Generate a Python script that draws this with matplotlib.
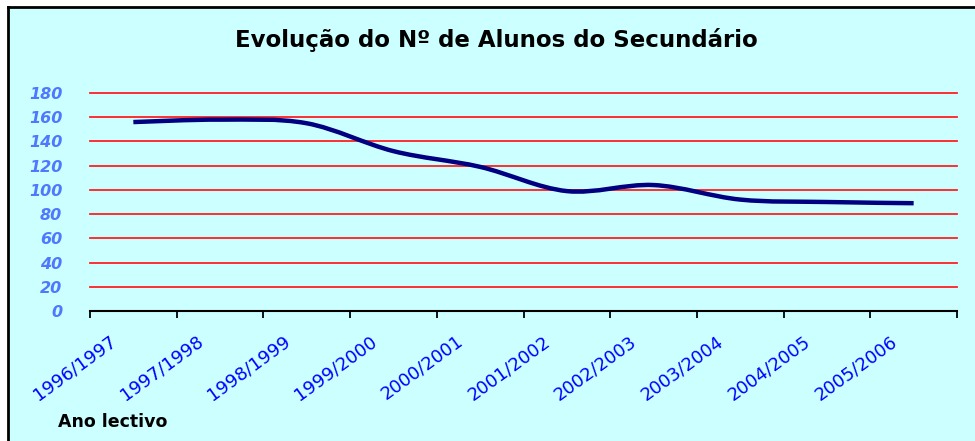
import numpy as np
import matplotlib.pyplot as plt
from matplotlib.path import Path
from matplotlib.patches import PathPatch, Rectangle
from matplotlib.lines import Line2D
from matplotlib.transforms import ScaledTranslation

anos = ['1996/1997', '1997/1998', '1998/1999', '1999/2000', '2000/2001',
        '2001/2002', '2002/2003', '2003/2004', '2004/2005', '2005/2006']
alunos = [156, 158, 155, 132, 119, 99, 104, 92, 90, 89]
yticks = [0, 20, 40, 60, 80, 100, 120, 140, 160, 180]

fundo = '#ccffff'

fig = plt.figure(figsize=(9.75, 4.41), dpi=100)
fig.patch.set_facecolor('white')

# caixa do grafico (so com margem esquerda e de cima)
fig.patches.append(Rectangle((8/975, 0), 1, 1 - 7/441, transform=fig.transFigure,
                             facecolor=fundo, edgecolor='none', zorder=-2))
fig.lines.append(Line2D([8/975, 8/975], [0, 1 - 7/441], transform=fig.transFigure,
                        color='black', lw=2, zorder=-1))
fig.lines.append(Line2D([8/975, 1], [1 - 7/441, 1 - 7/441], transform=fig.transFigure,
                        color='black', lw=2, zorder=-1))

ax = fig.add_axes([90/975, 1 - 311/441, (957 - 90)/975, (311 - 93)/441])
ax.patch.set_visible(False)

x = np.arange(len(anos)) + 0.5
y = np.array(alunos, dtype=float)

# linha suavizada (bezier tipo catmull-rom, como no excel)
verts = [(x[0], y[0])]
codes = [Path.MOVETO]
n = len(x)
for i in range(n - 1):
    p0 = (x[max(i - 1, 0)], y[max(i - 1, 0)])
    p1 = (x[i], y[i])
    p2 = (x[i + 1], y[i + 1])
    p3 = (x[min(i + 2, n - 1)], y[min(i + 2, n - 1)])
    c1 = (p1[0] + (p2[0] - p0[0]) / 6, p1[1] + (p2[1] - p0[1]) / 6)
    c2 = (p2[0] - (p3[0] - p1[0]) / 6, p2[1] - (p3[1] - p1[1]) / 6)
    verts += [c1, c2, p2]
    codes += [Path.CURVE4] * 3
ax.add_patch(PathPatch(Path(verts, codes), facecolor='none', edgecolor='#000080',
                       lw=3.2, capstyle='butt', zorder=3))

ax.set_xlim(0, len(anos))
ax.set_ylim(0, 180)
ax.set_yticks(yticks)
ax.yaxis.grid(True, color='#ff2020', lw=1.3)
for g in ax.yaxis.get_gridlines():
    g.set_clip_on(False)
ax.set_axisbelow(True)

ax.set_xticks(np.arange(len(anos) + 1))
ax.set_xticklabels([])
ax.tick_params(axis='x', which='major', direction='out', length=5, width=1.3, color='black')
ax.tick_params(axis='y', length=0, pad=20, labelcolor='#4f78ff', labelsize=11.5)
for lab in ax.get_yticklabels():
    lab.set_fontweight('bold')
    lab.set_fontstyle('italic')
    lab.set_family('DejaVu Sans')

# rotulos dos anos lectivos, inclinados
desloc = ax.get_xaxis_transform() + ScaledTranslation(-0.24, -0.21, fig.dpi_scale_trans)
for xi, ano in zip(x, anos):
    ax.text(xi, 0, ano, transform=desloc, rotation=36, ha='right', va='top',
            rotation_mode='anchor', color='#0000ff', fontsize=13, family='DejaVu Sans')

for s in ['left', 'right', 'top']:
    ax.spines[s].set_visible(False)
ax.spines['bottom'].set_linewidth(1.5)

fig.text(496/975, 1 - 40/441, 'Evolução do Nº de Alunos do Secundário', ha='center',
         va='center', fontsize=16.5, fontweight='bold', family='DejaVu Sans')
fig.text(58/975, 1 - 422/441, 'Ano lectivo', ha='left', va='center', fontsize=12.5,
         fontweight='bold', family='DejaVu Sans')

fig.savefig('out.png', dpi=100, facecolor=fig.get_facecolor())
